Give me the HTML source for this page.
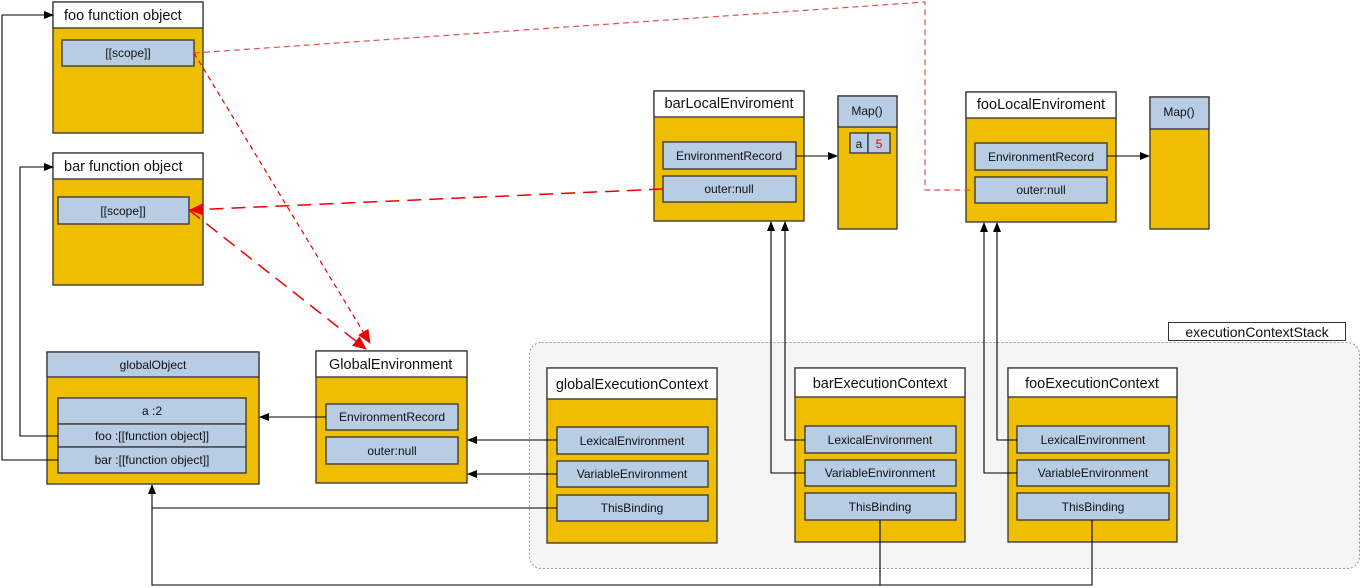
<!DOCTYPE html>
<html><head><meta charset="utf-8"><style>
html,body{margin:0;padding:0;background:#fff;}
svg{display:block;}
text{font-family:"Liberation Sans",sans-serif;fill:#111;}
</style></head><body>
<svg width="1361" height="588" viewBox="0 0 1361 588" xmlns="http://www.w3.org/2000/svg">
<defs>
<marker id="ab" markerWidth="10" markerHeight="8" refX="9" refY="4" orient="auto" markerUnits="userSpaceOnUse"><path d="M0,0 L10,4 L0,8 Z" fill="#000"/></marker>
<marker id="ar" markerWidth="14" markerHeight="12" refX="13" refY="6" orient="auto" markerUnits="userSpaceOnUse"><path d="M0,0 L14,6 L0,12 Z" fill="#e00"/></marker>
</defs>

<rect x="529.5" y="342.5" width="830" height="226" rx="12" fill="#f5f5f5" stroke="#999" stroke-dasharray="2,2"/>
<rect x="1168.5" y="322.5" width="177" height="18" fill="#fff" stroke="#333"/>
<text x="1257" y="337" font-size="14" text-anchor="middle">executionContextStack</text>

<g stroke="#333" stroke-width="1.3">
<rect x="53" y="2" width="150" height="131" fill="#f0be00"/>
<rect x="53" y="2" width="150" height="26" fill="#fff"/>
<rect x="62" y="40" width="132" height="26" fill="#b8cce4"/>
<rect x="53" y="153" width="150" height="132" fill="#f0be00"/>
<rect x="53" y="153" width="150" height="26" fill="#fff"/>
<rect x="58" y="197" width="131" height="27" fill="#b8cce4"/>
<rect x="47" y="352" width="212" height="132" fill="#f0be00"/>
<rect x="47" y="352" width="212" height="25" fill="#b8cce4"/>
<rect x="58" y="398" width="188" height="26" fill="#b8cce4"/>
<rect x="58" y="424" width="188" height="23" fill="#b8cce4"/>
<rect x="58" y="447" width="188" height="26" fill="#b8cce4"/>
<rect x="316" y="351" width="151" height="132" fill="#f0be00"/>
<rect x="316" y="351" width="151" height="26" fill="#fff"/>
<rect x="326" y="404" width="132" height="26" fill="#b8cce4"/>
<rect x="326" y="437" width="132" height="27" fill="#b8cce4"/>
<rect x="547" y="368" width="170" height="175" fill="#f0be00"/>
<rect x="547" y="368" width="170" height="31" fill="#fff"/>
<rect x="557" y="427" width="151" height="27" fill="#b8cce4"/>
<rect x="557" y="461" width="151" height="26" fill="#b8cce4"/>
<rect x="557" y="495" width="151" height="26" fill="#b8cce4"/>
<rect x="795" y="368" width="170" height="174" fill="#f0be00"/>
<rect x="795" y="368" width="170" height="29" fill="#fff"/>
<rect x="805" y="426" width="151" height="27" fill="#b8cce4"/>
<rect x="805" y="460" width="151" height="26" fill="#b8cce4"/>
<rect x="805" y="493" width="151" height="27" fill="#b8cce4"/>
<rect x="1008" y="368" width="169" height="174" fill="#f0be00"/>
<rect x="1008" y="368" width="169" height="29" fill="#fff"/>
<rect x="1017" y="426" width="152" height="27" fill="#b8cce4"/>
<rect x="1017" y="460" width="152" height="26" fill="#b8cce4"/>
<rect x="1017" y="493" width="152" height="27" fill="#b8cce4"/>
<rect x="654" y="91" width="150" height="130" fill="#f0be00"/>
<rect x="654" y="91" width="150" height="26" fill="#fff"/>
<rect x="663" y="142" width="133" height="27" fill="#b8cce4"/>
<rect x="663" y="176" width="133" height="26" fill="#b8cce4"/>
<rect x="838" y="96" width="59" height="133" fill="#f0be00"/>
<rect x="838" y="96" width="59" height="31" fill="#b8cce4"/>
<rect x="850" y="133" width="18" height="20" fill="#b8cce4"/>
<rect x="868" y="133" width="22" height="20" fill="#b8cce4"/>
<rect x="966" y="92" width="150" height="130" fill="#f0be00"/>
<rect x="966" y="92" width="150" height="26" fill="#fff"/>
<rect x="975" y="143" width="132" height="27" fill="#b8cce4"/>
<rect x="975" y="177" width="132" height="26" fill="#b8cce4"/>
<rect x="1150" y="97" width="59" height="132" fill="#f0be00"/>
<rect x="1150" y="97" width="59" height="32" fill="#b8cce4"/>
</g>

<g font-size="14.5">
<text x="64" y="20">foo function object</text>
<text x="64" y="171">bar function object</text>
<text x="329" y="369">GlobalEnvironment</text>
<text x="632" y="389" text-anchor="middle">globalExecutionContext</text>
<text x="880" y="388" text-anchor="middle">barExecutionContext</text>
<text x="1092" y="388" text-anchor="middle">fooExecutionContext</text>
<text x="729" y="108" text-anchor="middle">barLocalEnviroment</text>
<text x="1041" y="109" text-anchor="middle">fooLocalEnviroment</text>
</g>
<g font-size="12" text-anchor="middle">
<text x="128" y="57">[[scope]]</text>
<text x="123" y="215">[[scope]]</text>
<text x="153" y="369">globalObject</text>
<text x="152" y="415">a :2</text>
<text x="152" y="440">foo :[[function object]]</text>
<text x="152" y="464">bar :[[function object]]</text>
<text x="392" y="421">EnvironmentRecord</text>
<text x="392" y="455">outer:null</text>
<text x="632" y="445">LexicalEnvironment</text>
<text x="632" y="478">VariableEnvironment</text>
<text x="632" y="512">ThisBinding</text>
<text x="880" y="444">LexicalEnvironment</text>
<text x="880" y="477">VariableEnvironment</text>
<text x="880" y="511">ThisBinding</text>
<text x="1093" y="444">LexicalEnvironment</text>
<text x="1093" y="477">VariableEnvironment</text>
<text x="1093" y="511">ThisBinding</text>
<text x="729" y="160">EnvironmentRecord</text>
<text x="729" y="193">outer:null</text>
<text x="1041" y="161">EnvironmentRecord</text>
<text x="1041" y="194">outer:null</text>
<text x="867" y="115">Map()</text>
<text x="1179" y="116">Map()</text>
<text x="859" y="148">a</text>
<text x="879" y="148" style="fill:#e00">5</text>
</g>

<g stroke="#000" stroke-width="1.1" fill="none">
<polyline points="58,460 2,460 2,15 53,15" marker-end="url(#ab)"/>
<polyline points="58,436 20,436 20,167 53,167" marker-end="url(#ab)"/>
<line x1="326" y1="417" x2="260" y2="417" marker-end="url(#ab)"/>
<line x1="557" y1="440" x2="468" y2="440" marker-end="url(#ab)"/>
<line x1="557" y1="474" x2="468" y2="474" marker-end="url(#ab)"/>
<polyline points="557,508 152,508 152,485" marker-end="url(#ab)"/>
<polyline points="880,520 880,585 152,585 152,508"/>
<polyline points="1092,520 1092,585 880,585"/>
<polyline points="805,440 785,440 785,222" marker-end="url(#ab)"/>
<polyline points="805,473 771,473 771,222" marker-end="url(#ab)"/>
<polyline points="1017,440 997,440 997,223" marker-end="url(#ab)"/>
<polyline points="1017,473 984,473 984,223" marker-end="url(#ab)"/>
<line x1="796" y1="156" x2="837" y2="156" marker-end="url(#ab)"/>
<line x1="1107" y1="156" x2="1149" y2="156" marker-end="url(#ab)"/>
</g>

<g fill="none">
<polyline points="194,53 925,2 925,190 975,190" stroke="#e05050" stroke-width="1.2" stroke-dasharray="6,4"/>
<line x1="194" y1="53" x2="370" y2="343" stroke="#e00" stroke-width="1.2" stroke-dasharray="5,4" marker-end="url(#ar)"/>
<line x1="189" y1="210" x2="366" y2="349" stroke="#e00" stroke-width="1.5" stroke-dasharray="14,8" marker-end="url(#ar)"/>
<line x1="663" y1="189" x2="190" y2="210" stroke="#e00" stroke-width="1.5" stroke-dasharray="14,8" marker-end="url(#ar)"/>
</g>
</svg>
</body></html>
